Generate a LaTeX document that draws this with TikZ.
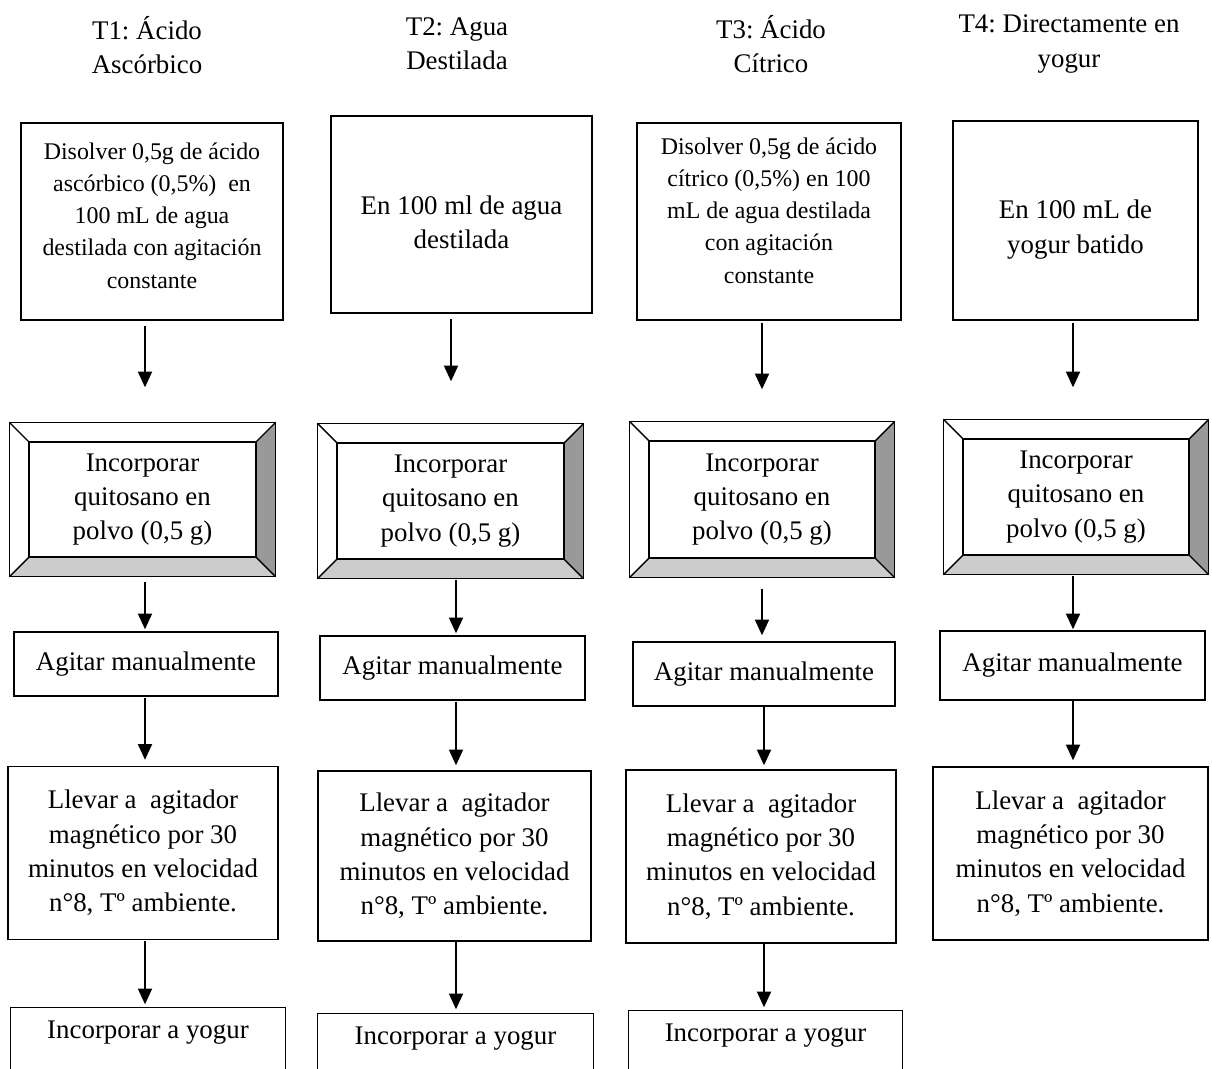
\documentclass[tikz,border=0pt]{standalone}
\usepackage{fontspec}
\setmainfont{Liberation Serif}
\usetikzlibrary{calc,arrows.meta}
\frenchspacing

\newcommand{\txt}{\fontsize{15.3}{19.5}\selectfont}
\newcommand{\smalltxt}{\fontsize{13.6}{18.3}\selectfont}

\tikzset{
  boxline/.style={line width=0.8pt},
  box/.style={draw, boxline, align=center, inner sep=0pt, font=\txt},
  head/.style={align=center, inner sep=0pt, font=\txt},
  tlab/.style={align=center, inner sep=0pt, font=\txt},
  cut/.style={box, draw=none},
  arr/.style={-{Triangle[width=8pt,length=9pt]}, line width=1.1pt},
}

\newcommand{\bevel}[1]{
\fill[black!20] (#1.south west) -- (#1.south east) -- ($(#1.south east)+(19,19)$) -- ($(#1.south west)+(-19,19)$) -- cycle;
\fill[black!40] (#1.north east) -- ($(#1.north east)+(19,-19)$) -- ($(#1.south east)+(19,19)$) -- (#1.south east) -- cycle;
\draw[boxline] ($(#1.north west)+(-19,-19)$) rectangle ($(#1.south east)+(19,19)$);
\draw[boxline] (#1.north west) rectangle (#1.south east);
\draw[boxline] ($(#1.north west)+(-19,-19)$) -- (#1.north west);
\draw[boxline] ($(#1.north east)+(19,-19)$) -- (#1.north east);
\draw[boxline] ($(#1.south west)+(-19,19)$) -- (#1.south west);
\draw[boxline] ($(#1.south east)+(19,19)$) -- (#1.south east);
}

\begin{document}
\begin{tikzpicture}[x=0.02cm, y=-0.02cm]
\useasboundingbox (0,0) rectangle (1212,1068);
\clip (0,0) rectangle (1212,1068);

\node[head] (h1) at (147,45) {T1: Ácido\\Ascórbico};
\node[head] (h2) at (457,44) {T2: Agua\\Destilada};
\node[head] (h3) at (771,44) {T3: Ácido\\Cítrico};
\node[head] (h4) at (1069,44) {T4: Directamente en\\yogur};

\node[box, minimum width=5.24cm, minimum height=3.94cm, label={[tlab, font=\smalltxt, yshift=0.12cm]center:{Disolver 0,5g de ácido\\ascórbico (0,5\%)\ \ en\\100 mL de agua\\destilada con agitación\\constante}}] (r1) at (152,221.5) {};
\node[box, minimum width=5.22cm, minimum height=3.94cm, label={[tlab, yshift=-0.16cm]center:{En 100 ml de agua\\destilada}}] (r2) at (461.5,214.5) {};
\node[box, minimum width=5.28cm, minimum height=3.94cm, label={[tlab, font=\smalltxt, yshift=0.22cm]center:{Disolver 0,5g de ácido\\cítrico (0,5\%) en 100\\mL de agua destilada\\con agitación\\constante}}] (r3) at (769,221.5) {};
\node[box, minimum width=4.9cm, minimum height=3.98cm, label={[tlab, yshift=-0.18cm]center:{En 100 mL de\\yogur batido}}] (r4) at (1075.5,220.5) {};

\node[box, minimum width=4.54cm, minimum height=2.3cm] (q1) at (142.5,499.5) {Incorporar\\quitosano en\\polvo (0,5 g)};
\node[box, minimum width=4.54cm, minimum height=2.32cm] (q2) at (450.5,501) {Incorporar\\quitosano en\\polvo (0,5 g)};
\node[box, minimum width=4.52cm, minimum height=2.34cm] (q3) at (762,499.5) {Incorporar\\quitosano en\\polvo (0,5 g)};
\node[box, minimum width=4.52cm, minimum height=2.32cm] (q4) at (1076,497) {Incorporar\\quitosano en\\polvo (0,5 g)};
\bevel{q1}
\bevel{q2}
\bevel{q3}
\bevel{q4}

\node[box, minimum width=5.28cm, minimum height=1.28cm] (a1) at (146,664) {Agitar manualmente};
\node[box, minimum width=5.3cm, minimum height=1.28cm] (a2) at (452.5,668) {Agitar manualmente};
\node[box, minimum width=5.24cm, minimum height=1.28cm] (a3) at (764,674) {Agitar manualmente};
\node[box, minimum width=5.3cm, minimum height=1.38cm] (a4) at (1072.5,665.5) {Agitar manualmente};

\node[box, minimum width=5.4cm, minimum height=3.46cm] (l1) at (143,853) {Llevar a\ \ agitador\\magnético por 30\\minutos en velocidad\\n°8, Tº ambiente.};
\node[box, minimum width=5.46cm, minimum height=3.4cm] (l2) at (454.5,856) {Llevar a\ \ agitador\\magnético por 30\\minutos en velocidad\\n°8, Tº ambiente.};
\node[box, minimum width=5.4cm, minimum height=3.46cm] (l3) at (761,856.5) {Llevar a\ \ agitador\\magnético por 30\\minutos en velocidad\\n°8, Tº ambiente.};
\node[box, minimum width=5.5cm, minimum height=3.46cm] (l4) at (1070.5,853.5) {Llevar a\ \ agitador\\magnético por 30\\minutos en velocidad\\n°8, Tº ambiente.};

\node[cut, minimum width=5.48cm, minimum height=1.0cm] (i1) at (148,1033) {Incorporar a yogur};
\node[cut, minimum width=5.5cm, minimum height=1.0cm] (i2) at (455.5,1039) {Incorporar a yogur};
\node[cut, minimum width=5.46cm, minimum height=1.0cm] (i3) at (765.5,1036) {Incorporar a yogur};
\draw[boxline] (i1.north west) rectangle ($(i1.south east)+(0,40)$);
\draw[boxline] (i2.north west) rectangle ($(i2.south east)+(0,40)$);
\draw[boxline] (i3.north west) rectangle ($(i3.south east)+(0,40)$);

\coordinate (x1) at (145,0);
\coordinate (x2a) at (451,0);
\coordinate (x2) at (456,0);
\coordinate (x3a) at (762,0);
\coordinate (x3) at (764,0);
\coordinate (x4) at (1073,0);

\draw[arr, shorten <=0.1cm, shorten >=1.08cm] (r1.south -| x1) -- (q1.north -| x1);
\draw[arr, shorten <=0.48cm, shorten >=0.04cm] (q1.south -| x1) -- (a1.north -| x1);
\draw[arr, shorten <=0.02cm, shorten >=0.12cm] (a1.south -| x1) -- (l1.north -| x1);
\draw[arr, shorten <=0.02cm, shorten >=0.06cm] (l1.south -| x1) -- (i1.north -| x1);

\draw[arr, shorten <=0.1cm, shorten >=1.22cm] (r2.south -| x2a) -- (q2.north -| x2a);
\draw[arr, shorten <=0.4cm, shorten >=0.04cm] (q2.south -| x2) -- (a2.north -| x2);
\draw[arr, shorten <=0.02cm, shorten >=0.1cm] (a2.south -| x2) -- (l2.north -| x2);
\draw[arr, shorten >=0.08cm] (l2.south -| x2) -- (i2.north -| x2);

\draw[arr, shorten <=0.04cm, shorten >=1.02cm] (r3.south -| x3a) -- (q3.north -| x3a);
\draw[arr, shorten <=0.6cm, shorten >=0.12cm] (q3.south -| x3a) -- (a3.north -| x3a);
\draw[arr, shorten >=0.08cm] (a3.south -| x3) -- (l3.north -| x3);
\draw[arr, shorten >=0.06cm] (l3.south -| x3) -- (i3.north -| x3);

\draw[arr, shorten <=0.04cm, shorten >=1.02cm] (r4.south -| x4) -- (q4.north -| x4);
\draw[arr, shorten <=0.4cm, shorten >=0.02cm] (q4.south -| x4) -- (a4.north -| x4);
\draw[arr, shorten >=0.12cm] (a4.south -| x4) -- (l4.north -| x4);

\end{tikzpicture}
\end{document}
